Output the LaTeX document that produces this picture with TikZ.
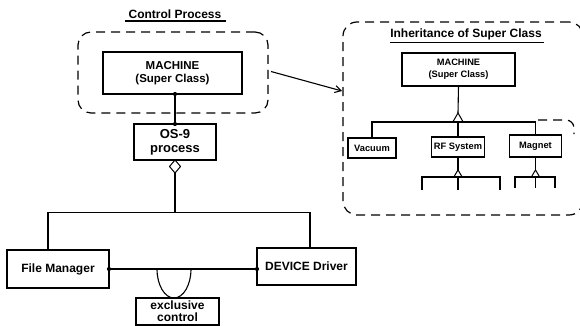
\documentclass[tikz,border=0pt]{standalone}
\usepackage{fontspec}
\setmainfont{Liberation Sans}
\usetikzlibrary{arrows.meta,shapes.geometric}

\begin{document}
\begin{tikzpicture}[x=1pt,y=-1pt,
  box/.style={draw, line width=1.1pt, inner sep=0pt, outer sep=0pt, align=center},
  grp/.style={draw, line width=1.2pt, dash pattern=on 9pt off 6pt, rounded corners=13pt,
              inner sep=0pt, outer sep=0pt},
  ln/.style={line width=1.1pt},
  dotted end/.style={circle, fill, inner sep=0pt, minimum size=4.2pt},
  agg/.style={diamond, draw, fill=white, line width=1pt, inner sep=0pt, outer sep=0pt,
              minimum width=11pt, minimum height=13pt},
  inh/.style={regular polygon, regular polygon sides=3, draw, fill=white, line width=1pt,
              inner sep=0pt, outer sep=0pt},
  big/.style={font=\bfseries\fontsize{12}{13}\selectfont},
  mid/.style={font=\bfseries\fontsize{11.5}{13}\selectfont},
  small/.style={font=\bfseries\fontsize{9.3}{12}\selectfont},
]
\useasboundingbox (0,0) rectangle (580,326);

% ---------- control process ----------
\node[big, inner sep=0pt] (ctitle) at (175,14) {Control Process};
\draw[line width=1.3pt] ([xshift=-3pt,yshift=-2.5pt]ctitle.south west) -- ([xshift=4pt,yshift=-2.5pt]ctitle.south east);

\node[grp, minimum width=190pt, minimum height=81pt] (lgrp) at (173,72.5) {};
\node[box, mid, minimum width=139pt, minimum height=42pt] (mach1) at (172.5,73) {MACHINE\\(Super Class)};
\node[box, font=\bfseries\fontsize{13}{14}\selectfont, minimum width=82pt, minimum height=36pt] (os9) at (175,142) {OS-9\\process};

\draw[ln] (os9.north) -- (os9.north |- mach1.south);
\node[dotted end] at (os9.north |- mach1.south) {};
\node[dotted end] at (os9.north) {};

\node[agg, anchor=north] (dia) at (os9.south) {};

\node[box, big, minimum width=102pt, minimum height=38pt] (fm) at (58,269) {File Manager};
\node[box, big, minimum width=99pt, minimum height=37pt] (dd) at (306.5,266.5) {DEVICE Driver};
\node[box, font=\bfseries\fontsize{12}{12}\selectfont, minimum width=83pt, minimum height=27pt] (ex) at (177.5,311.5) {exclusive\\control};

\coordinate (busL) at (48,212.5);
\coordinate (busR) at (310,212.5);
\draw[ln] (dia.south) -- (dia.south |- busL);
\draw[ln] (fm.north -| busL) -- (busL) -- (busR) -- (dd.north -| busR);

\draw[ln] (fm.east) -- (fm.east -| dd.west);
\node[dotted end] at (fm.east) {};
\node[dotted end] at (fm.east -| dd.west) {};
\draw[ln] ([xshift=-20.5pt]ex.north |- fm.east) arc[start angle=180, end angle=360, x radius=17pt, y radius=29pt];

% ---------- inheritance ----------
\node[grp, minimum width=240pt, minimum height=193pt, rounded corners=14pt] (rgrp) at (463,118.5) {};
\coordinate (tip) at (342,91);
\draw[line width=1.1pt, -{Straight Barb[length=6pt,width=7pt]}] ([xshift=3pt,yshift=1pt]lgrp.east) -- (tip);

\node[font=\bfseries\fontsize{12}{13}\selectfont, inner sep=0pt] (ititle) at (466,34) {Inheritance of Super Class};
\draw[line width=1.3pt] ([yshift=-2.5pt]ititle.south west) -- ([xshift=2pt,yshift=-2.5pt]ititle.south east);

\node[box, small, minimum width=113pt, minimum height=33pt] (mach2) at (458.5,69.5) {MACHINE\\(Super Class)};
\node[box, small, minimum width=48pt, minimum height=20pt] (vac) at (372,148) {Vacuum};
\node[box, small, minimum width=53pt, minimum height=20pt] (rf) at (458,147) {RF System};
\node[box, small, minimum width=52pt, minimum height=22pt] (mag) at (535.5,146) {Magnet};

\coordinate (hub) at (458,122);
\node[inh, minimum size=12pt, anchor=side 2] (t1) at (hub) {};
\draw[ln] (mach2.south) -- (t1.corner 1);
\draw[ln] (vac.north) -- (vac.north |- hub) -- (mag.north |- hub) -- (mag.north);
\draw[ln] (hub) -- (rf.north);

% RF System subclasses
\coordinate (rfhub) at (458,177);
\node[inh, minimum size=9.5pt, anchor=side 2] (t2) at (rfhub) {};
\draw[ln] (rf.south) -- (t2.corner 1);
\coordinate (rfa) at (422,190);
\coordinate (rfb) at (458,190);
\coordinate (rfc) at (500,190);
\draw[ln] (rfa) -- (rfa |- rfhub) -- (rfc |- rfhub) -- (rfc);
\draw[ln] (rfhub) -- (rfb);

% Magnet subclasses
\coordinate (mghub) at (535.5,177);
\node[inh, minimum size=9.5pt, anchor=side 2] (t3) at (mghub) {};
\draw[ln] (mag.south) -- (t3.corner 1);
\coordinate (mga) at (515,188);
\coordinate (mgb) at (535.5,188);
\coordinate (mgc) at (555,188);
\draw[ln] (mga) -- (mga |- mghub) -- (mgc |- mghub) -- (mgc);
\draw[ln] (mghub) -- (mgb);

% dashed edge beside the Magnet branch
\draw[line width=1.2pt, dash pattern=on 9pt off 6pt, rounded corners=8pt]
  (538,120) -- (574,120) -- (574,134);
\end{tikzpicture}
\end{document}
